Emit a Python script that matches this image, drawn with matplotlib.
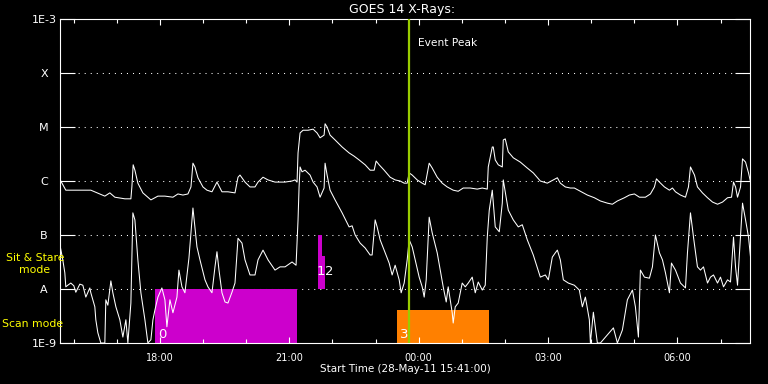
import matplotlib
matplotlib.use("Agg")
import matplotlib.pyplot as plt
from matplotlib.ticker import NullLocator, FixedLocator
import numpy as np

# GOES 14 long channel (1-8 A): hours after 00:00 28-May-11, log10 flux (W/m^2)
long_t = [15.695, 15.818, 16.398, 16.723, 16.839, 16.955, 17.188, 17.327, 17.350, 17.380,
          17.420, 17.489, 17.605, 17.791, 17.954, 18.116, 18.302, 18.418, 18.534, 18.650,
          18.720, 18.766, 18.812, 18.882, 18.998, 19.091, 19.207, 19.323, 19.439, 19.578,
          19.741, 19.811, 19.857, 19.973, 20.089, 20.205, 20.275, 20.391, 20.507, 20.669,
          20.902, 21.064, 21.134, 21.180, 21.203, 21.250, 21.319, 21.436, 21.552, 21.644,
          21.714, 21.807, 21.830, 21.877, 21.946, 22.062, 22.225, 22.387, 22.503, 22.619,
          22.759, 22.875, 22.968, 23.014, 23.084, 23.200, 23.339, 23.455, 23.571, 23.664,
          23.734, 23.780, 23.850, 23.966, 24.082, 24.151, 24.244, 24.314, 24.430, 24.546,
          24.662, 24.801, 24.917, 25.034, 25.196, 25.359, 25.475, 25.591, 25.614, 25.707,
          25.730, 25.776, 25.846, 25.939, 25.962, 26.008, 26.078, 26.194, 26.357, 26.519,
          26.658, 26.821, 26.983, 27.123, 27.216, 27.285, 27.401, 27.517, 27.610, 27.749,
          27.912, 28.074, 28.214, 28.376, 28.492, 28.608, 28.771, 28.887, 29.003, 29.119,
          29.258, 29.374, 29.467, 29.514, 29.583, 29.699, 29.815, 29.885, 29.955, 30.071,
          30.187, 30.256, 30.303, 30.396, 30.465, 30.581, 30.698, 30.814, 30.930, 31.046,
          31.162, 31.255, 31.301, 31.348, 31.394, 31.464, 31.510, 31.580, 31.649, 31.696]
long_lg = [-5.99, -6.17, -6.17, -6.28, -6.22, -6.30, -6.33, -6.33, -6.11, -5.70,
           -5.80, -6.04, -6.22, -6.35, -6.28, -6.28, -6.30, -6.24, -6.26, -6.24,
           -6.11, -5.67, -5.74, -5.94, -6.11, -6.17, -6.20, -6.02, -6.20, -6.20,
           -6.22, -5.93, -5.89, -6.02, -6.11, -6.11, -6.02, -5.93, -5.98, -6.02,
           -6.02, -6.00, -5.98, -6.02, -5.48, -5.11, -5.06, -5.06, -5.04, -5.11,
           -5.20, -5.15, -4.94, -5.00, -5.15, -5.24, -5.37, -5.48, -5.54, -5.61,
           -5.70, -5.80, -5.80, -5.63, -5.70, -5.80, -5.93, -5.98, -6.00, -6.04,
           -6.04, -5.85, -5.89, -5.98, -6.04, -6.07, -5.67, -5.76, -5.93, -6.04,
           -6.11, -6.17, -6.19, -6.13, -6.13, -6.15, -6.13, -6.15, -5.74, -5.37,
           -5.37, -5.61, -5.70, -5.74, -5.24, -5.22, -5.46, -5.57, -5.65, -5.76,
           -5.85, -6.00, -6.04, -5.98, -5.94, -6.04, -6.11, -6.13, -6.13, -6.19,
           -6.26, -6.31, -6.37, -6.41, -6.43, -6.37, -6.31, -6.26, -6.24, -6.30,
           -6.30, -6.24, -6.11, -5.96, -6.02, -6.11, -6.17, -6.13, -6.20, -6.26,
           -6.30, -6.11, -5.74, -5.89, -6.11, -6.22, -6.31, -6.39, -6.43, -6.39,
           -6.31, -6.30, -6.02, -6.11, -6.30, -6.11, -5.59, -5.65, -5.85, -6.02]

# GOES 14 short channel (0.5-4 A)
short_t = [15.695, 15.748, 15.795, 15.818, 15.864, 15.934, 16.004, 16.050, 16.143, 16.213,
           16.282, 16.375, 16.398, 16.491, 16.514, 16.561, 16.630, 16.723, 16.746, 16.793,
           16.863, 16.909, 16.979, 17.071, 17.141, 17.211, 17.257, 17.327, 17.373, 17.420,
           17.489, 17.559, 17.652, 17.721, 17.791, 17.838, 17.884, 17.954, 18.046, 18.116,
           18.162, 18.232, 18.302, 18.395, 18.441, 18.511, 18.580, 18.673, 18.766, 18.859,
           18.929, 19.045, 19.114, 19.207, 19.277, 19.323, 19.370, 19.439, 19.509, 19.578,
           19.671, 19.741, 19.811, 19.903, 19.973, 20.089, 20.205, 20.275, 20.391, 20.507,
           20.669, 20.786, 20.902, 21.064, 21.157, 21.203, 21.227, 21.250, 21.296, 21.366,
           21.482, 21.552, 21.644, 21.714, 21.807, 21.830, 21.877, 21.946, 22.062, 22.225,
           22.387, 22.457, 22.527, 22.643, 22.759, 22.875, 22.921, 22.991, 23.037, 23.107,
           23.200, 23.316, 23.385, 23.455, 23.548, 23.594, 23.664, 23.734, 23.780, 23.850,
           23.919, 24.012, 24.082, 24.128, 24.175, 24.244, 24.314, 24.430, 24.500, 24.569,
           24.639, 24.685, 24.778, 24.801, 24.848, 24.917, 25.010, 25.080, 25.150, 25.242,
           25.312, 25.382, 25.475, 25.544, 25.591, 25.637, 25.707, 25.776, 25.869, 25.939,
           25.962, 26.078, 26.194, 26.310, 26.403, 26.519, 26.658, 26.821, 26.937, 27.007,
           27.099, 27.169, 27.216, 27.285, 27.355, 27.471, 27.610, 27.726, 27.796, 27.866,
           27.958, 27.982, 28.051, 28.144, 28.214, 28.516, 28.608, 28.724, 28.840, 28.957,
           29.026, 29.096, 29.142, 29.235, 29.351, 29.421, 29.490, 29.583, 29.653, 29.723,
           29.815, 29.862, 29.955, 30.071, 30.187, 30.233, 30.303, 30.373, 30.465, 30.535,
           30.605, 30.698, 30.767, 30.837, 30.930, 30.999, 31.069, 31.162, 31.231, 31.301,
           31.348, 31.394, 31.440, 31.510, 31.580, 31.649, 31.696]
short_lg = [-7.24, -7.46, -7.70, -7.96, -7.93, -7.89, -7.94, -8.06, -7.91, -7.93,
            -8.15, -7.98, -8.07, -8.33, -8.57, -8.81, -9.00, -9.00, -8.20, -8.30,
            -7.85, -8.07, -8.33, -8.57, -8.89, -8.57, -9.00, -8.26, -6.59, -6.72,
            -7.46, -8.07, -8.57, -9.00, -8.94, -8.57, -8.39, -8.15, -7.98, -8.20,
            -8.70, -8.20, -8.44, -8.15, -7.65, -7.96, -8.07, -7.43, -6.50, -7.22,
            -7.46, -7.83, -7.96, -8.07, -7.59, -7.31, -7.65, -8.07, -8.24, -8.26,
            -8.06, -7.89, -7.06, -7.15, -7.46, -7.74, -7.74, -7.46, -7.28, -7.46,
            -7.65, -7.59, -7.59, -7.50, -7.56, -6.72, -6.11, -5.74, -5.83, -5.80,
            -5.89, -6.02, -6.11, -6.30, -6.13, -5.67, -5.89, -6.17, -6.35, -6.59,
            -6.85, -6.83, -7.00, -7.15, -7.24, -7.37, -7.37, -6.72, -6.85, -7.09,
            -7.28, -7.52, -7.74, -7.56, -7.83, -8.07, -7.89, -7.46, -7.09, -7.22,
            -7.46, -7.78, -7.96, -8.15, -7.83, -6.67, -6.96, -7.33, -7.65, -7.96,
            -8.24, -7.96, -8.44, -8.63, -8.33, -8.26, -7.89, -7.96, -7.89, -7.78,
            -8.07, -7.87, -8.02, -7.93, -7.04, -6.54, -6.17, -6.85, -6.94, -6.41,
            -5.98, -6.54, -6.72, -6.85, -6.81, -7.09, -7.37, -7.78, -7.74, -7.83,
            -7.41, -7.33, -7.28, -7.46, -7.83, -7.89, -7.93, -8.02, -8.33, -8.15,
            -8.57, -9.00, -8.43, -9.00, -9.00, -8.72, -9.00, -8.76, -8.20, -8.02,
            -8.33, -8.89, -7.65, -7.78, -7.80, -7.59, -7.00, -7.33, -7.46, -7.70,
            -8.07, -7.52, -7.65, -7.89, -7.98, -7.33, -6.59, -7.04, -7.59, -7.65,
            -7.59, -7.89, -7.78, -7.74, -7.89, -7.78, -7.96, -7.83, -7.87, -7.04,
            -7.59, -7.93, -7.33, -6.41, -6.72, -7.04, -7.41]

# flare classes on the y axis
class_lg = [-9, -8, -7, -6, -5, -4, -3]
class_labels = ["1E-9", "A", "B", "C", "M", "X", "1E-3"]

# observing windows (0-2 sit & stare, 3 scan)
win_id = ["0", "1", "2", "3"]
win_start = [17.884, 21.668, 21.754, 23.501]
win_end = [21.180, 21.754, 21.830, 25.637]
win_bottom = [-9.0, -8.0, -8.0, -9.0]
win_top = [-8.0, -7.0, -7.39, -8.39]
win_color = ["#cc00cc", "#cc00cc", "#cc00cc", "#ff8000"]

peak_t = 23.78
t_start, t_end = 15.6833, 31.6833
hour_ticks = [18, 21, 24, 27, 30]
hour_labels = ["18:00", "21:00", "00:00", "03:00", "06:00"]

fig = plt.figure(figsize=(7.68, 3.84), dpi=100, facecolor="black")
ax = fig.add_axes([60 / 768, 1 - 343 / 384, 690 / 768, 324 / 384])
ax.set_facecolor("black")

# observing windows; "1" sits just left of "2", so it hangs off the end of its bar
label_style = {"0": ("left", 0, 1.5), "1": ("right", 1, 8), "2": ("left", 0, 8), "3": ("left", 0, 1.5)}
for i in range(len(win_id)):
    lo, hi = 10 ** win_bottom[i], 10 ** win_top[i]
    ax.bar(win_start[i], hi - lo, bottom=lo, width=win_end[i] - win_start[i],
           align="edge", color=win_color[i], linewidth=0, zorder=1)
    ha, use_end, dy = label_style[win_id[i]]
    x0 = win_end[i] if use_end else win_start[i]
    ax.annotate(win_id[i], (x0, lo), xytext=(2.2, dy), textcoords="offset points",
                color="white", fontsize=9.5, ha=ha, va="bottom", zorder=4)

# dotted class gridlines
for lg in class_lg[1:-1]:
    ax.axhline(10 ** lg, color="white", lw=0.75, ls=(0, (1, 4.8)), zorder=0)

ax.plot(long_t, 10 ** np.array(long_lg), color="white", lw=0.75, zorder=3)
ax.plot(short_t, 10 ** np.array(short_lg), color="white", lw=0.75, zorder=3)

ax.axvline(peak_t, color="#99cc00", lw=1.6, zorder=5)
ax.annotate("Event Peak", (peak_t, 1), xycoords=("data", "axes fraction"),
            xytext=(6, -17.5), textcoords="offset points", color="white",
            fontsize=7.7, ha="left", va="center")

ax.set_yscale("log")
ax.set_ylim(1e-9, 1e-3)
ax.set_xlim(t_start, t_end)
ax.set_yticks([10.0 ** v for v in class_lg])
ax.set_yticklabels(class_labels)
ax.yaxis.set_minor_locator(NullLocator())
ax.tick_params(axis="y", which="major", direction="in", length=11, width=0.8,
               color="white", left=True, right=True, labelcolor="white",
               labelsize=8, pad=11.5)
for lbl in ax.get_yticklabels():
    lbl.set_horizontalalignment("center")

ax.set_xticks(hour_ticks)
ax.set_xticklabels(hour_labels)
ax.xaxis.set_minor_locator(FixedLocator(range(16, 32)))
ax.tick_params(axis="x", which="major", direction="in", length=4.5, width=0.8,
               color="white", top=True, bottom=True, labelcolor="white",
               labelsize=7, pad=7)
ax.tick_params(axis="x", which="minor", direction="in", length=3, width=0.8,
               color="white", top=True, bottom=True)

for sp in ax.spines.values():
    sp.set_color("white")
    sp.set_linewidth(0.8)

fig.text(402 / 768, 1 - 9 / 384, "GOES 14 X-Rays:", color="white", fontsize=9,
         ha="center", va="center")
fig.text(405 / 768, 1 - 369 / 384, "Start Time (28-May-11 15:41:00)", color="white",
         fontsize=7.5, ha="center", va="center")
fig.text(35 / 768, 1 - 264 / 384, "Sit & Stare\nmode", color="#ffff00", fontsize=7.8,
         ha="center", va="center", multialignment="center", linespacing=1.15)
fig.text(2 / 768, 1 - 324 / 384, "Scan mode", color="#ffff00", fontsize=7.8,
         ha="left", va="center")

fig.savefig("out.png", dpi=100, facecolor="black")
